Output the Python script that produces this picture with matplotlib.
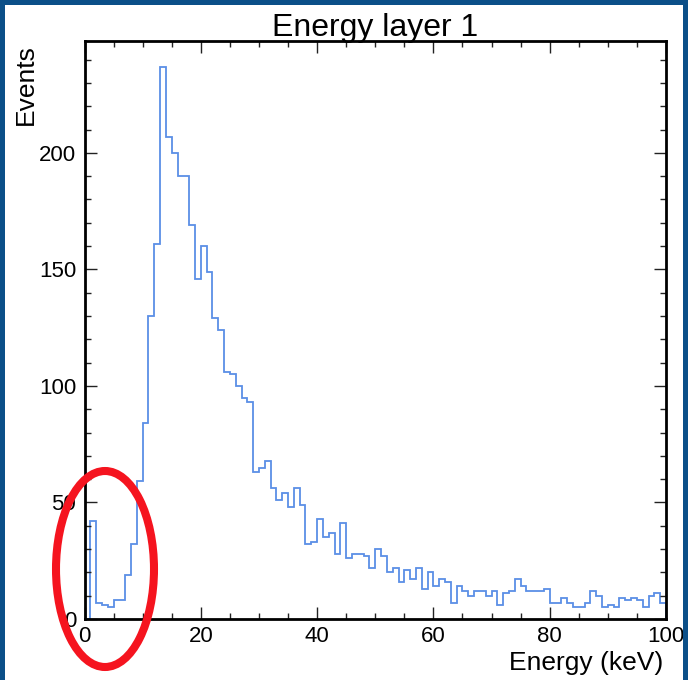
import numpy as np
import matplotlib
matplotlib.use("Agg")
import matplotlib.pyplot as plt
from matplotlib.patches import Ellipse, Rectangle
from matplotlib.ticker import MultipleLocator

plt.rcParams['font.family'] = ['Liberation Sans', 'DejaVu Sans']

# ---- data: 1 keV bins from 0 to 100 keV ----
bin_edges = np.arange(0, 101, 1)
counts = [0, 42, 7, 6, 5, 8, 8, 19, 32, 59,
          84, 130, 161, 237, 207, 200, 190, 190, 169, 146,
          160, 149, 129, 124, 106, 105, 100, 95, 93, 63,
          65, 68, 56, 51, 54, 48, 56, 49, 32, 33,
          43, 35, 37, 28, 41, 26, 28, 28, 27, 22,
          30, 27, 20, 22, 16, 21, 17, 22, 13, 20,
          14, 17, 16, 7, 14, 12, 10, 12, 12, 10,
          12, 6, 11, 12, 17, 14, 12, 12, 12, 13,
          7, 7, 9, 7, 5, 5, 7, 12, 10, 5,
          6, 5, 9, 8, 9, 8, 5, 10, 11, 7]
x_ticks = [0, 20, 40, 60, 80, 100]
y_ticks = [0, 50, 100, 150, 200]
title = "Energy layer 1"
xlabel = "Energy (keV)"
ylabel = "Events"

W, H = 688, 680
fig = plt.figure(figsize=(W / 100, H / 100), dpi=100)
fig.patch.set_facecolor('white')

# dark blue frame around the slide image
border = '#0b4f88'
bl, bt, br = 5, 5, 5
fig.patches.append(Rectangle((0, 0), bl / W, 1, transform=fig.transFigure,
                             facecolor=border, edgecolor='none', zorder=0))
fig.patches.append(Rectangle((1 - br / W, 0), br / W, 1, transform=fig.transFigure,
                             facecolor=border, edgecolor='none', zorder=0))
fig.patches.append(Rectangle((0, 1 - bt / H), 1, bt / H, transform=fig.transFigure,
                             facecolor=border, edgecolor='none', zorder=0))

left, right, top, bottom = 84.5, 666, 41, 619
ax = fig.add_axes([left / W, (H - bottom) / H, (right - left) / W, (bottom - top) / H])

ax.stairs(counts, bin_edges, fill=False, color='#5b8fe6', linewidth=1.3, baseline=0)

ax.set_xlim(0, 100)
ax.set_ylim(0, 248)
ax.set_xticks(x_ticks)
ax.set_yticks(y_ticks)
ax.xaxis.set_minor_locator(MultipleLocator(5))
ax.yaxis.set_minor_locator(MultipleLocator(10))
ax.tick_params(which='both', direction='in', top=True, right=True, width=1.0, color='#222222')
ax.tick_params(which='major', length=8.5, labelsize=16)
ax.tick_params(which='minor', length=4.3)
ax.tick_params(axis='x', which='major', pad=5)
ax.tick_params(axis='y', which='major', pad=6)
for s in ax.spines.values():
    s.set_linewidth(2.0)
    s.set_color('black')

fig.text(375 / W, (H - 36) / H, title, ha='center', va='baseline', fontsize=23)
fig.text(663 / W, (H - 670) / H, xlabel, ha='right', va='baseline', fontsize=19)
fig.text(26 / W, (H - 44) / H, ylabel, ha='center', va='top', rotation=90, fontsize=19)

# red highlight ellipse
ell = Ellipse((105 / W, (H - 569) / H), 98 / W, 196 / H, transform=fig.transFigure,
              fill=False, edgecolor='#f5141f', linewidth=5.8, clip_on=False, zorder=10)
fig.patches.append(ell)

fig.savefig('out.png', dpi=100)
